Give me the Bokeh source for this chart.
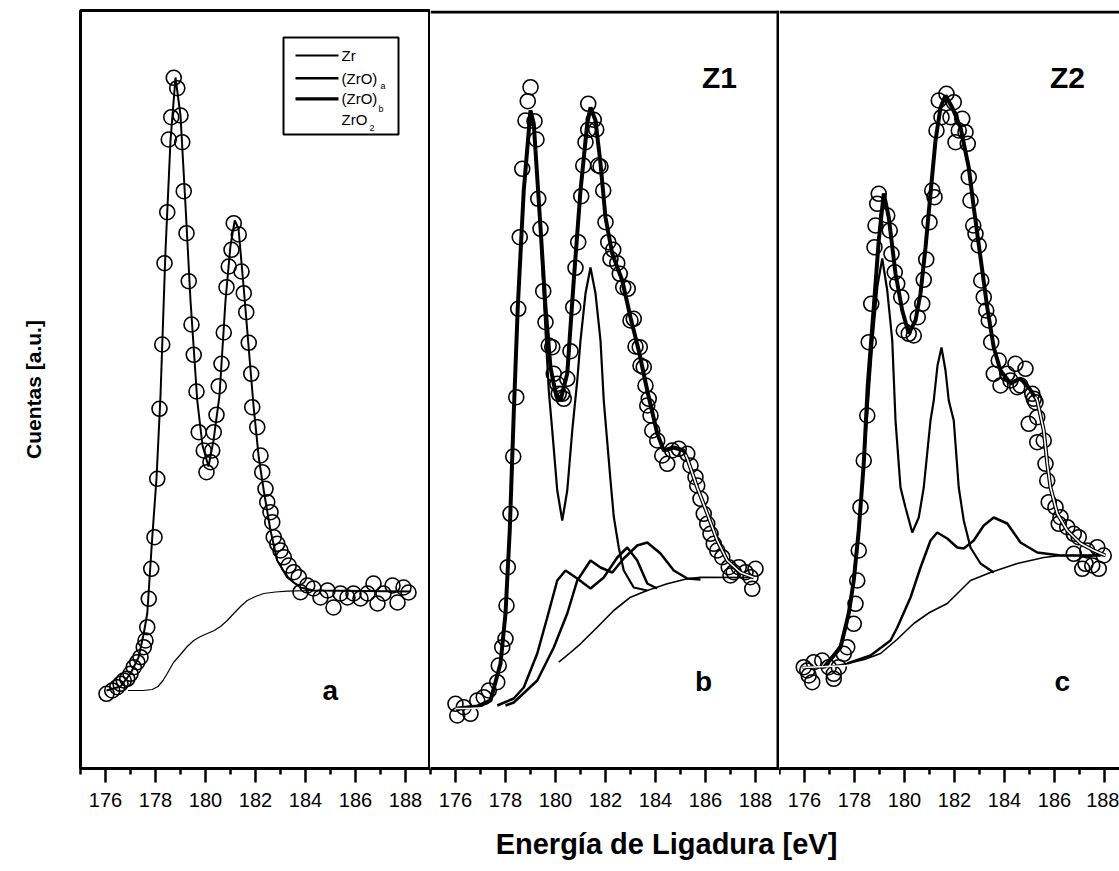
from bokeh.plotting import figure
from bokeh.models import FixedTicker, Range1d, Span, Label, BoxAnnotation
from bokeh.layouts import row, column
from bokeh.embed import file_html
from bokeh.resources import INLINE

FONT = "Liberation Sans"

# ---------------- axis ticks ----------------
major_ticks = [176, 178, 180, 182, 184, 186, 188]
minor_ticks = [175, 177, 179, 181, 183, 185, 187, 189]

# ---------------- panel a (Zr) ----------------
a_data_x = [176.04, 176.27, 176.47, 176.6, 176.73, 176.87, 177.0, 177.13, 177.27, 177.4, 177.53, 177.6,
            177.67, 177.73, 177.83, 177.96, 178.07, 178.16, 178.27, 178.36, 178.47, 178.53, 178.63, 178.73,
            178.87, 179.0, 179.07, 179.13, 179.24, 179.33, 179.44, 179.53, 179.64, 179.73, 179.93, 180.04,
            180.2, 180.27, 180.33, 180.44, 180.53, 180.64, 180.73, 180.84, 180.93, 181.04, 181.13, 181.33,
            181.44, 181.53, 181.63, 181.73, 181.83, 181.87, 182.07, 182.2, 182.27, 182.4, 182.47, 182.6,
            182.67, 182.73, 182.87, 183.0, 183.13, 183.33, 183.53, 183.73, 183.8, 184.07, 184.32, 184.6,
            184.88, 185.12, 185.4, 185.68, 185.92, 186.2, 186.48, 186.72, 186.88, 187.12, 187.48, 187.68,
            187.92, 188.12]
a_data_y = [74.7, 78, 81.3, 84.7, 88, 89.7, 94.7, 101.3, 106.3, 111.3, 121.3, 128,
            141.3, 169.7, 199.7, 231.3, 289.7, 359.7, 424, 505.3, 556.3, 629, 651.3, 690.7,
            680.3, 653, 626.3, 577.3, 535.3, 487.3, 444, 413.7, 377, 336.3, 318, 296.3,
            306.3, 318, 336.3, 353.7, 382.3, 404.7, 436, 481.3, 502, 518.7, 545.3, 534,
            497, 475.3, 456.3, 425.7, 394.7, 361.3, 341.3, 313, 296.3, 279.7, 266.3, 256.3,
            246.3, 231.3, 224.7, 218, 211.3, 203, 196.3, 191.3, 176.3, 183, 180, 171,
            178, 161, 175, 171, 175, 170, 175, 185, 165, 175, 183, 166,
            181, 176]
a_fit_x = [176.04, 176.6, 177.0, 177.32, 177.53, 177.67, 177.87, 178.04, 178.2, 178.4, 178.6, 178.8,
           179.0, 179.2, 179.4, 179.67, 179.88, 180.12, 180.32, 180.56, 180.8, 181.0, 181.17, 181.32,
           181.52, 181.72, 181.92, 182.13, 182.33, 182.6, 182.87, 183.27, 183.8, 184.32, 188.2]
a_fit_y = [78, 82, 95, 111, 135, 155, 231, 290, 373, 518, 628, 691,
           653, 563, 468, 368, 323, 302, 328, 373, 468, 523, 548, 540,
           483, 423, 363, 311, 278, 238, 208, 191, 181, 178, 177]
a_bg_x = [176.9, 177.5, 177.87, 178.1, 178.3, 178.47, 178.72, 179.0, 179.27, 179.53, 179.8, 180.07,
          180.35, 180.6, 180.87, 181.13, 181.4, 181.67, 182.0, 182.33, 182.8, 183.27, 184.33]
a_bg_y = [78, 78, 79, 82, 88, 95, 106, 114, 122, 128, 132, 135,
          138, 142, 148, 155, 162, 168, 172, 175, 176.5, 177.3, 178]

# ---------------- panel b (Z1) ----------------
b_data_x = [176.0, 176.07, 176.33, 176.6, 176.87, 177.13, 177.33, 177.67, 177.73, 177.87, 178.0, 178.04,
            178.09, 178.2, 178.31, 178.43, 178.51, 178.57, 178.67, 178.8, 178.89, 179.0, 179.16, 179.24,
            179.31, 179.4, 179.51, 179.6, 179.73, 179.87, 179.93, 180.07, 180.13, 180.27, 180.33, 180.47,
            180.6, 180.71, 180.8, 180.91, 181.03, 181.11, 181.2, 181.31, 181.31, 181.53, 181.63, 181.71,
            181.8, 181.91, 182.0, 182.11, 182.2, 182.31, 182.47, 182.57, 182.71, 182.89, 183.0, 183.13,
            183.2, 183.37, 183.4, 183.53, 183.6, 183.67, 183.73, 183.8, 183.87, 184.07, 184.27, 184.47,
            184.67, 184.93, 185.27, 185.4, 185.6, 185.67, 185.8, 185.93, 186.07, 186.2, 186.33, 186.47,
            186.67, 186.93, 187.0, 187.13, 187.33, 187.6, 187.8, 187.87, 188.0]
b_data_y = [64.7, 53, 61.3, 54.7, 68, 71.3, 78, 86.3, 103, 121.3, 129.7, 163,
            201.3, 254.7, 312, 371.3, 459.7, 531.3, 599.7, 648, 667.3, 681.3, 647.3, 629,
            569.7, 539.7, 477.3, 446.3, 423, 421.3, 394.7, 384.7, 374.7, 374.7, 369.7, 389.7,
            417.3, 461.3, 500.7, 526.3, 572.3, 603, 626.3, 638.7, 664.7, 648.7, 639, 603,
            602, 578, 546.3, 526.3, 509.7, 518.7, 505.3, 494.7, 481.3, 479.7, 448, 449.7,
            422, 421.3, 403, 401.3, 383, 363, 369.7, 353, 338, 328, 313, 304.7,
            318, 319.7, 314.7, 303, 291.3, 283, 269.7, 254.7, 244.7, 234.7, 224.7, 218,
            211.3, 201.3, 193, 196.3, 201.3, 196.3, 191.3, 179.7, 199.7]
b_env_x = [176.07, 176.87, 177.4, 177.8, 178.0, 178.17, 178.33, 178.49, 178.73, 179.0, 179.13, 179.4,
           179.6, 179.8, 180.0, 180.2, 180.47, 180.73, 181.0, 181.27, 181.4, 181.6, 181.8, 182.0,
           182.27, 182.67, 183.0, 183.33, 183.67, 184.07, 184.33, 184.73, 185.13, 185.27, 185.67, 186.07,
           186.47, 186.87, 187.4, 187.93]
b_env_y = [60, 62, 68, 105, 155, 238, 355, 461, 578, 658, 645, 541,
           461, 401, 376, 368, 395, 488, 578, 645, 661, 648, 605, 551,
           515, 488, 451, 418, 378, 335, 318, 321, 318, 310, 281, 255,
           228, 208, 196, 191]
b_tail_x = [185.2, 185.27, 185.67, 186.07, 186.47, 186.87, 187.4, 187.93]
b_tail_y = [314, 310, 281, 255, 228, 208, 196, 191]
b_base_x = [176.0, 176.6, 177.2]
b_base_y = [60, 60, 61]
b_zr_x = [176.07, 176.87, 177.4, 177.8, 178.0, 178.17, 178.33, 178.49, 178.73, 179.0, 179.13, 179.4,
          179.6, 179.73, 179.87, 180.07, 180.27, 180.47, 180.67, 180.87, 181.0, 181.2, 181.4, 181.6,
          181.8, 181.93, 182.2, 182.33, 182.53, 182.73, 183.13, 183.67]
b_zr_y = [60, 62, 68, 105, 155, 238, 355, 461, 578, 658, 645, 538,
          438, 378, 338, 278, 248, 278, 338, 388, 428, 475, 501, 475,
          428, 368, 288, 252, 221, 198, 181, 178]
b_zroa_x = [177.67, 178.33, 178.73, 179.27, 179.67, 180.07, 180.4, 180.87, 181.4, 181.93, 182.47, 182.87,
            183.27, 183.67, 184.07]
b_zroa_y = [63, 70, 81, 115, 151, 188, 198, 190, 180, 191, 211, 221,
            208, 185, 180]
b_zrob_x = [178.0, 178.33, 179.27, 179.93, 180.47, 180.87, 181.4, 181.8, 182.27, 182.73, 183.27, 183.67,
            184.2, 184.73, 185.27, 185.8]
b_zrob_y = [63, 66, 88, 121, 155, 188, 208, 201, 196, 210, 223, 226,
            215, 198, 190, 189]
b_bg_x = [180.13, 180.6, 181.0, 181.67, 182.33, 183.0, 183.67, 184.47, 185.27, 185.8, 187.93]
b_bg_y = [106.3, 116, 124.7, 141.3, 158, 171.3, 178, 184.7, 189.7, 191.3, 191]

# ---------------- panel c (Z2) ----------------
c_data_x = [175.97, 176.11, 176.17, 176.31, 176.37, 176.71, 176.97, 177.17, 177.17, 177.37, 177.57, 177.71,
            177.97, 178.04, 178.11, 178.17, 178.24, 178.37, 178.51, 178.57, 178.67, 178.8, 178.84, 178.91,
            178.97, 179.31, 179.41, 179.48, 179.61, 179.71, 179.87, 179.97, 180.17, 180.37, 180.53, 180.71,
            180.77, 180.87, 181.0, 181.11, 181.2, 181.28, 181.37, 181.48, 181.68, 181.84, 181.97, 182.04,
            182.17, 182.31, 182.44, 182.53, 182.57, 182.64, 182.75, 182.84, 182.97, 183.07, 183.17, 183.27,
            183.37, 183.47, 183.77, 183.57, 183.84, 184.11, 184.24, 184.44, 184.51, 184.64, 184.84, 185.11,
            185.17, 185.24, 185.31, 184.97, 185.57, 185.31, 185.64, 185.71, 185.77, 186.04, 186.24, 186.17,
            186.51, 186.77, 186.97, 186.77, 187.31, 187.71, 187.97, 187.24, 187.51, 187.77, 187.11]
c_data_y = [101.3, 98, 93, 86.3, 106.3, 108, 101.3, 94.7, 89.7, 101.3, 114.7, 121.3,
            144.7, 164.7, 188, 218, 261.3, 308, 353, 426.3, 464.7, 521.3, 543, 564.7,
            574.7, 553, 538, 514.7, 496.3, 484.7, 471.3, 438, 434.7, 433, 451.3, 464.7,
            488.7, 509, 546.3, 578, 571.3, 638, 668, 651.3, 674.7, 651.3, 666.3, 626.3,
            638, 649.7, 636.3, 624.7, 591.3, 568, 543, 534.7, 523, 488, 471.3, 458,
            448, 426.3, 408, 394.7, 383, 394.7, 388, 404.7, 381.3, 383, 399.7, 374.7,
            369.7, 366.3, 351.3, 344.7, 328, 326.3, 304.7, 288, 266.3, 261.3, 251.3, 244.7,
            241.3, 234.7, 231.3, 214.7, 218, 221.3, 213, 204.7, 203, 199.7, 199.7]
c_env_x = [176.77, 177.44, 177.77, 177.97, 178.17, 178.37, 178.53, 178.77, 178.97, 179.17, 179.37, 179.64,
           179.91, 180.17, 180.44, 180.64, 180.84, 181.04, 181.24, 181.44, 181.64, 181.91, 182.24, 182.57,
           182.77, 183.04, 183.31, 183.57, 183.84, 184.24, 184.64, 184.97, 185.31, 185.57, 185.71, 185.84,
           186.11, 186.51, 187.04, 187.57, 188.04]
c_env_y = [101, 121, 155, 188, 238, 305, 383, 461, 528, 575, 551, 495,
           458, 435, 448, 475, 521, 575, 628, 661, 673, 661, 641, 601,
           561, 511, 461, 421, 398, 385, 390, 381, 368, 338, 305, 281,
           255, 238, 225, 218, 213]
c_tail_x = [185.24, 185.31, 185.57, 185.71, 185.84, 186.11, 186.51, 187.04, 187.57, 188.04]
c_tail_y = [372, 368, 338, 305, 281, 255, 238, 225, 218, 213]
c_base_x = [175.91, 176.9, 177.9]
c_base_y = [101, 102, 103]
c_zr_x = [175.91, 176.77, 177.44, 177.84, 178.12, 178.32, 178.52, 178.72, 178.92, 179.11, 179.31, 179.51,
          179.64, 179.84, 180.04, 180.31, 180.57, 180.77, 181.04, 181.17, 181.32, 181.48, 181.64, 181.77,
          181.97, 182.17, 182.37, 182.64, 183.04, 183.57]
c_zr_y = [101, 101, 123, 163, 228, 288, 358, 428, 483, 510, 478, 428,
          348, 281, 261, 236, 251, 281, 348, 368, 403, 421, 398, 368,
          348, 281, 248, 221, 205, 196]
c_zro_x = [177.71, 178.64, 179.44, 179.71, 180.24, 180.64, 181.04, 181.31, 181.71, 182.11, 182.37, 182.77,
           183.17, 183.57, 184.11, 184.64, 185.31, 186.24, 187.84]
c_zro_y = [105, 113, 128, 141, 171, 201, 228, 236, 230, 221, 220, 228,
           243, 251, 245, 226, 216, 213, 213]
c_bg_x = [175.91, 177.04, 177.71, 178.4, 179.04, 179.7, 180.37, 181.0, 181.71, 182.64, 183.44, 184.51,
          185.57, 186.24, 188.04]
c_bg_y = [101, 102, 105, 109, 115, 129, 145, 156, 165, 188, 196, 205,
          211, 213, 213]

# ---------------- legend (panel a) ----------------
legend_labels = ["Zr", "(ZrO)", "(ZrO)", "ZrO"]
legend_subs = ["", "a", "b", "2"]
legend_widths = [2, 2.5, 3.2, 0]

Y_MAX = 758
H_TOP = 818


def style_panel(p):
    p.xaxis.ticker = FixedTicker(ticks=major_ticks, minor_ticks=minor_ticks)
    p.xaxis.major_tick_out = 14
    p.xaxis.major_tick_in = 0
    p.xaxis.minor_tick_out = 6
    p.xaxis.minor_tick_in = 0
    p.xaxis.major_tick_line_width = 2.5
    p.xaxis.minor_tick_line_width = 2.5
    p.xaxis.axis_line_width = 3
    p.xaxis.major_label_text_font = FONT
    p.xaxis.major_label_text_font_size = "20px"
    p.xaxis.major_label_text_color = "black"
    p.xaxis.major_label_standoff = 10
    p.xgrid.visible = False
    p.ygrid.visible = False
    p.background_fill_color = "white"
    p.border_fill_color = "white"


def make_panel(width, x_end, left, with_y):
    p = figure(width=width, height=H_TOP, x_range=Range1d(175, x_end), y_range=Range1d(0, Y_MAX),
               output_backend="svg", toolbar_location=None,
               min_border_left=left, min_border_right=0, min_border_top=10, min_border_bottom=50,
               y_axis_location="left" if with_y else None)
    style_panel(p)
    return p


X_END1 = 175 + 350 / 25
X_END2 = 175 + 349 / 25
X_END3 = 175 + 340 / 25

p1 = make_panel(430, X_END1, 80, True)
p1.outline_line_color = "black"
p1.outline_line_width = 3
p1.outline_line_alpha = 1.0
p1.yaxis.ticker = FixedTicker(ticks=[])
p1.yaxis.major_tick_line_color = None
p1.yaxis.minor_tick_line_color = None
p1.yaxis.major_label_text_font_size = "0px"
p1.yaxis.axis_line_color = None
p1.yaxis.axis_label = "Cuentas [a.u.]"
p1.yaxis.axis_label_text_font = FONT
p1.yaxis.axis_label_text_font_style = "bold"
p1.yaxis.axis_label_text_font_size = "21px"
p1.yaxis.axis_label_text_color = "black"
p1.yaxis.axis_label_standoff = 36

p2 = make_panel(349, X_END2, 0, False)
p2.outline_line_color = None
p2.add_layout(Span(location=Y_MAX - 1.5, dimension="width", line_color="black", line_width=3))
p2.add_layout(Span(location=X_END2 - 1.5 / 25, dimension="height", line_color="black", line_width=3))

p3 = make_panel(340, X_END3, 0, False)
p3.outline_line_color = None
p3.add_layout(Span(location=Y_MAX - 1.5, dimension="width", line_color="black", line_width=3))

MARK = dict(marker="circle", size=15, fill_color=None, line_color="black", line_width=1.6)

# panel a
p1.line(a_bg_x, a_bg_y, line_color="black", line_width=1.2)
p1.line(a_fit_x, a_fit_y, line_color="black", line_width=2)
p1.scatter(a_data_x, a_data_y, **MARK)

# panel b
p2.line(b_bg_x, b_bg_y, line_color="black", line_width=1.6)
p2.line(b_zroa_x, b_zroa_y, line_color="black", line_width=2.5)
p2.line(b_zrob_x, b_zrob_y, line_color="black", line_width=2.5)
p2.line(b_zr_x, b_zr_y, line_color="black", line_width=2.2)
p2.line(b_env_x, b_env_y, line_color="black", line_width=4)
p2.scatter(b_data_x, b_data_y, **MARK)
p2.line(b_tail_x, b_tail_y, line_color="white", line_width=1.6)
p2.line(b_base_x, b_base_y, line_color="white", line_width=1.6)

# panel c
p3.line(c_bg_x, c_bg_y, line_color="black", line_width=1.6)
p3.line(c_zro_x, c_zro_y, line_color="black", line_width=2.5)
p3.line(c_zr_x, c_zr_y, line_color="black", line_width=2.2)
p3.line(c_env_x, c_env_y, line_color="black", line_width=4)
p3.scatter(c_data_x, c_data_y, **MARK)
p3.line(c_tail_x, c_tail_y, line_color="white", line_width=1.6)
p3.line(c_base_x, c_base_y, line_color="white", line_width=1.6)

# panel letters
for p, xx, yy, t, fs in [(p1, 184.99, 78, "a", "28px"), (p2, 185.92, 87, "b", "28px"),
                         (p3, 186.31, 87, "c", "28px"), (p2, 186.56, 691, "Z1", "30px"),
                         (p3, 186.52, 691, "Z2", "30px")]:
    p.add_layout(Label(x=xx, y=yy, text=t, text_font=FONT, text_font_style="bold",
                       text_font_size=fs, text_align="center", text_baseline="alphabetic",
                       text_color="black"))

# legend box in panel a
p1.add_layout(BoxAnnotation(left=183.12, right=187.72, bottom=634, top=731, fill_alpha=0,
                            line_color="black", line_alpha=1.0, line_width=2))
row_y = [713, 690.3, 669.7, 649]
sub_pos = [None, (187.0, 682.5), (186.92, 660), (186.56, 640.5)]
for i, lab in enumerate(legend_labels):
    if legend_widths[i] > 0:
        p1.line([183.6, 185.32], [row_y[i], row_y[i]], line_color="black", line_width=legend_widths[i])
    p1.add_layout(Label(x=185.44, y=row_y[i], text=lab, text_font=FONT, text_font_size="15px",
                        text_align="left", text_baseline="middle", text_color="black"))
    if legend_subs[i]:
        sx, sy = sub_pos[i]
        p1.add_layout(Label(x=sx, y=sy, text=legend_subs[i], text_font=FONT, text_font_size="9px",
                            text_align="left", text_baseline="middle", text_color="black"))

# x-axis title below all panels
plab = figure(width=1119, height=50, x_range=Range1d(0, 1119), y_range=Range1d(0, 50),
              output_backend="svg", toolbar_location=None, x_axis_location=None, y_axis_location=None,
              min_border=0)
plab.outline_line_color = None
plab.xgrid.visible = False
plab.ygrid.visible = False
plab.add_layout(Label(x=666, y=25, text="Energía de Ligadura [eV]", text_font=FONT,
                      text_font_style="bold", text_font_size="29px", text_align="center",
                      text_baseline="middle", text_color="black"))

layout = column(row(p1, p2, p3), plab)
open("out.html", "w").write(file_html(layout, INLINE))
